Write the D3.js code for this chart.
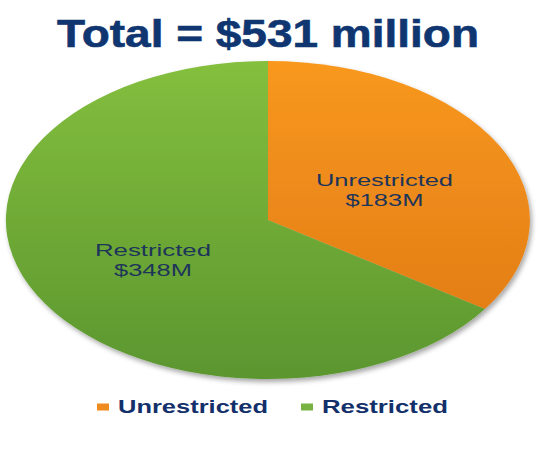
<!DOCTYPE html>
<html>
<head>
<meta charset="utf-8">
<script src="https://cdn.jsdelivr.net/npm/d3@7"></script>
<style>
  html, body { margin: 0; padding: 0; background: #ffffff; }
  svg { display: block; font-family: "Liberation Sans", Arial, sans-serif; }
</style>
</head>
<body>
<svg id="chart" width="550" height="450"></svg>
<script>
// Funding split
const categories = ["Unrestricted", "Restricted"];
const values = [183, 348];
const valueLabels = ["$183M", "$348M"];
const titleText = "Total = $531 million";

const colors = {
  Unrestricted: ["#f8981f", "#de7714"],
  Restricted: ["#84bf3e", "#5b962f"]
};
const legendColors = { Unrestricted: "#ef8a1e", Restricted: "#78b243" };

const svg = d3.select("#chart");
const defs = svg.append("defs");

categories.forEach((c, i) => {
  const g = defs.append("linearGradient")
    .attr("id", "grad" + i)
    .attr("gradientUnits", "userSpaceOnUse")
    .attr("x1", 0).attr("y1", -1).attr("x2", 0).attr("y2", 1);
  g.append("stop").attr("offset", "0%").attr("stop-color", colors[c][0]);
  g.append("stop").attr("offset", "100%").attr("stop-color", colors[c][1]);
});

const shadow = defs.append("filter").attr("id", "shadow")
  .attr("x", "-10%").attr("y", "-10%").attr("width", "125%").attr("height", "130%");
shadow.append("feDropShadow")
  .attr("dx", 2).attr("dy", 3).attr("stdDeviation", 2.5)
  .attr("flood-color", "#000").attr("flood-opacity", 0.35);

// Elliptical pie: unit-radius arcs stretched to the ellipse
const cx = 268, cy = 220, rx = 262, ry = 159;
const pie = d3.pie().sort(null).value(d => d.value);
const arcs = pie(categories.map((c, i) => ({ name: c, value: values[i], idx: i })));
const arc = d3.arc().innerRadius(0).outerRadius(1);

const outer = svg.append("g").attr("filter", "url(#shadow)");
const pieG = outer.append("g").attr("transform", `translate(${cx},${cy}) scale(${rx},${ry})`);
pieG.selectAll("path").data(arcs).join("path")
  .attr("d", arc)
  .attr("fill", d => `url(#grad${d.data.idx})`);

// Slice labels
const labelPos = [
  { x: 384.5, y: 186, w1: 137, w2: 78 },
  { x: 153, y: 256, w1: 116, w2: 78 }
];
const labelG = svg.append("g");
arcs.forEach((d, i) => {
  const p = labelPos[i];
  const t = labelG.append("g").attr("fill", "#1d3559").attr("font-size", 17);
  t.append("text").attr("x", p.x).attr("y", p.y).attr("text-anchor", "middle")
    .attr("textLength", p.w1).attr("lengthAdjust", "spacingAndGlyphs")
    .text(d.data.name);
  t.append("text").attr("x", p.x).attr("y", p.y + 20).attr("text-anchor", "middle")
    .attr("textLength", p.w2).attr("lengthAdjust", "spacingAndGlyphs")
    .text(valueLabels[i]);
});

// Title
svg.append("text")
  .attr("x", 268).attr("y", 47)
  .attr("text-anchor", "middle")
  .attr("font-size", 39).attr("font-weight", "bold")
  .attr("fill", "#0f3670")
  .attr("stroke", "#0f3670").attr("stroke-width", 0.6)
  .attr("textLength", 422).attr("lengthAdjust", "spacingAndGlyphs")
  .text(titleText);

// Legend
const legendItems = [
  { x: 97, w: 150 },
  { x: 301, w: 126 }
];
const legend = svg.append("g");
categories.forEach((c, i) => {
  const it = legendItems[i];
  legend.append("rect")
    .attr("x", it.x).attr("y", 403.5).attr("width", 12).attr("height", 7)
    .attr("fill", legendColors[c]);
  legend.append("text")
    .attr("x", it.x + 21).attr("y", 413)
    .attr("font-size", 19).attr("font-weight", "bold")
    .attr("fill", "#13306b")
    .attr("textLength", it.w).attr("lengthAdjust", "spacingAndGlyphs")
    .text(c);
});
</script>
</body>
</html>
